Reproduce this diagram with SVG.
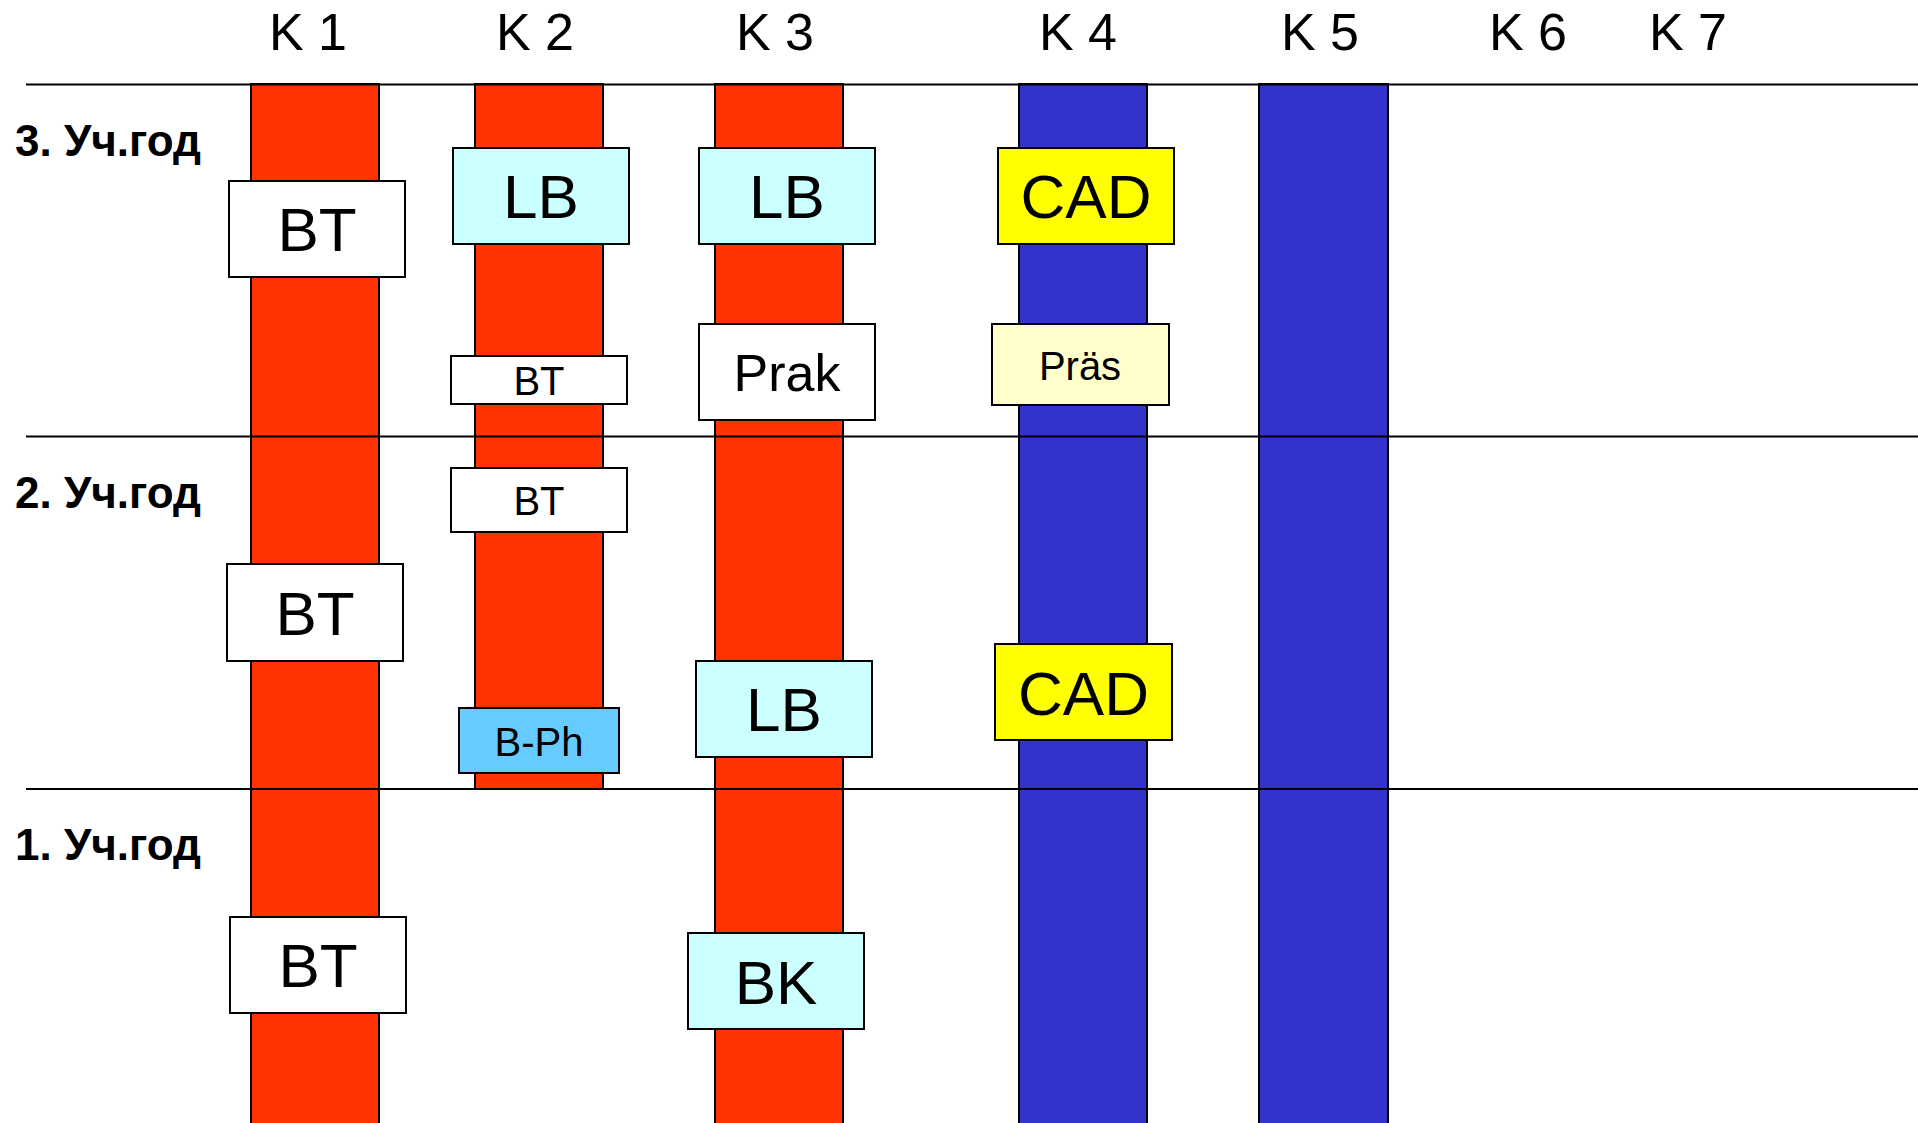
<svg xmlns="http://www.w3.org/2000/svg" width="1918" height="1123" viewBox="0 0 1918 1123">
<style>
text{font-family:"Liberation Sans",Arial,sans-serif;text-anchor:middle;fill:#000}
.hdr{font-size:52px}
.row{font-size:44px;font-weight:bold;text-anchor:start}
.big{font-size:62px}
.mid{font-size:52px}
.sm{font-size:40px}
.bar{stroke:#000;stroke-width:2}
.red{fill:#FF3300}
.blue{fill:#3333CC}
.box{stroke:#000;stroke-width:2}
.w{fill:#FFFFFF}
.c{fill:#CCFFFF}
.y{fill:#FFFF00}
.ly{fill:#FFFFCC}
.lb{fill:#66CCFF}
.grid{stroke:#000;stroke-width:2}
</style>
<rect width="1918" height="1123" fill="#FFFFFF"/>
<g id="headers">
<text class="hdr" x="308" y="50">K 1</text>
<text class="hdr" x="535" y="50">K 2</text>
<text class="hdr" x="775" y="50">K 3</text>
<text class="hdr" x="1078" y="50">K 4</text>
<text class="hdr" x="1320" y="50">K 5</text>
<text class="hdr" x="1528" y="50">K 6</text>
<text class="hdr" x="1688" y="50">K 7</text>
</g>
<g id="row-labels">
<text class="row" x="15" y="156">3. Уч.год</text>
<text class="row" x="15" y="508">2. Уч.год</text>
<text class="row" x="15" y="860">1. Уч.год</text>
</g>
<g id="bars">
<rect class="bar red" x="251" y="84" width="128" height="1045"/>
<rect class="bar red" x="475" y="84" width="128" height="705"/>
<rect class="bar red" x="715" y="84" width="128" height="1045"/>
<rect class="bar blue" x="1019" y="84" width="128" height="1045"/>
<rect class="bar blue" x="1259" y="84" width="129" height="1045"/>
</g>
<g id="connectors">
<line class="grid" x1="26" y1="84.5" x2="1918" y2="84.5"/>
<line class="grid" x1="26" y1="436.5" x2="1918" y2="436.5"/>
<line class="grid" x1="26" y1="789" x2="1918" y2="789"/>
</g>
<g id="bt-k1-r3"><rect class="box w" x="229" y="181" width="176" height="96"/><text class="big" x="317" y="251">BT</text></g>
<g id="lb-k2-r3"><rect class="box c" x="453" y="148" width="176" height="96"/><text class="big" x="541" y="218">LB</text></g>
<g id="lb-k3-r3"><rect class="box c" x="699" y="148" width="176" height="96"/><text class="big" x="787" y="218">LB</text></g>
<g id="cad-k4-r3"><rect class="box y" x="998" y="148" width="176" height="96"/><text class="big" x="1086" y="218">CAD</text></g>
<g id="bt-k2-r3"><rect class="box w" x="451" y="356" width="176" height="48"/><text class="sm" x="539" y="395">BT</text></g>
<g id="prak-k3-r3"><rect class="box w" x="699" y="324" width="176" height="96"/><text class="mid" x="787" y="391">Prak</text></g>
<g id="praes-k4-r3"><rect class="box ly" x="992" y="324" width="177" height="81"/><text class="sm" x="1080" y="380">Präs</text></g>
<g id="bt-k2-r2"><rect class="box w" x="451" y="468" width="176" height="64"/><text class="sm" x="539" y="515">BT</text></g>
<g id="bt-k1-r2"><rect class="box w" x="227" y="564" width="176" height="97"/><text class="big" x="315" y="635">BT</text></g>
<g id="bph-k2-r2"><rect class="box lb" x="459" y="708" width="160" height="65"/><text class="sm" x="539" y="756">B-Ph</text></g>
<g id="lb-k3-r2"><rect class="box c" x="696" y="661" width="176" height="96"/><text class="big" x="784" y="731">LB</text></g>
<g id="cad-k4-r2"><rect class="box y" x="995" y="644" width="177" height="96"/><text class="big" x="1083.5" y="715">CAD</text></g>
<g id="bt-k1-r1"><rect class="box w" x="230" y="917" width="176" height="96"/><text class="big" x="318" y="987">BT</text></g>
<g id="bk-k3-r1"><rect class="box c" x="688" y="933" width="176" height="96"/><text class="big" x="776" y="1004">BK</text></g>
</svg>
